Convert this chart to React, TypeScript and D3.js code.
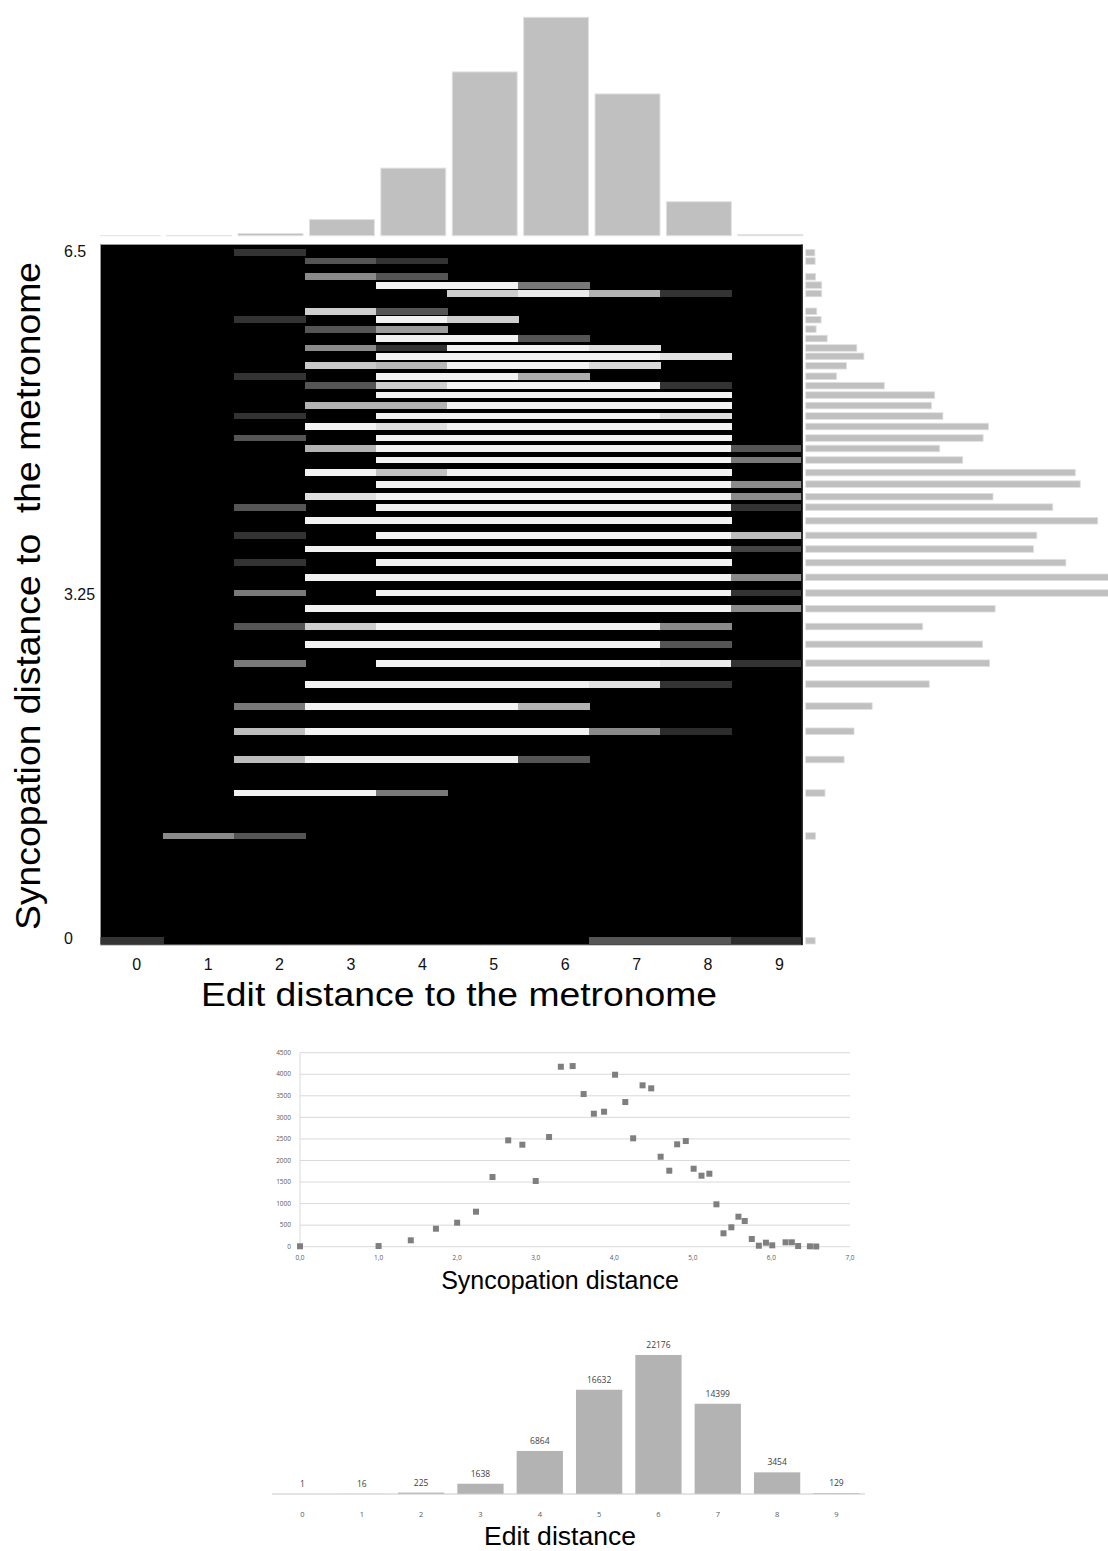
import React from 'react';
import * as d3 from 'd3';

// edit distance histogram (top bars + bottom chart)
const editDistances = [0, 1, 2, 3, 4, 5, 6, 7, 8, 9];
const editCounts = [1, 16, 225, 1638, 6864, 16632, 22176, 14399, 3454, 129];

// syncopation distance values (rows of the heatmap) and their counts
const syncValues = [0, 1.0, 1.41, 1.73, 2.0, 2.24, 2.45, 2.65, 2.83, 3.0, 3.17, 3.32, 3.47, 3.61, 3.74,
  3.87, 4.01, 4.14, 4.24, 4.36, 4.47, 4.59, 4.7, 4.8, 4.91, 5.01, 5.11, 5.21, 5.3, 5.39, 5.49, 5.58,
  5.66, 5.75, 5.84, 5.93, 6.01, 6.18, 6.26, 6.34, 6.49, 6.57];
const syncCounts = [10, 15, 148, 417, 557, 812, 1616, 2467, 2366, 1524, 2544, 4174, 4190, 3541, 3085,
  3131, 3989, 3356, 2514, 3743, 3673, 2087, 1763, 2375, 2451, 1809, 1647, 1693, 983, 311, 450, 696,
  596, 179, 23, 93, 32, 102, 102, 16, 9, 5];

// heatmap intensity per syncopation row (same order as syncValues), one value per edit distance
const heatLevels = [
  [0.21, 0, 0, 0, 0, 0, 0, 0.35, 0.35, 0.18],
  [0, 0.57, 0.35, 0, 0, 0, 0, 0, 0, 0],
  [0, 0, 1, 1, 0.5, 0, 0, 0, 0, 0],
  [0, 0, 0.78, 1, 1, 1, 0.35, 0, 0, 0],
  [0, 0, 0.78, 1, 1, 1, 1, 0.57, 0.18, 0],
  [0, 0, 0.5, 1, 1, 1, 0.74, 0, 0, 0],
  [0, 0, 0, 1, 1, 1, 1, 0.93, 0.21, 0],
  [0, 0, 0.5, 0, 1, 1, 1, 1, 0.97, 0.21],
  [0, 0, 0, 1, 1, 1, 1, 1, 0.35, 0],
  [0, 0, 0.35, 0.85, 1, 1, 1, 1, 0.57, 0],
  [0, 0, 0, 1, 1, 1, 1, 1, 1, 0.57],
  [0, 0, 0.5, 0, 1, 1, 1, 1, 1, 0.21],
  [0, 0, 0, 1, 1, 1, 1, 1, 1, 0.57],
  [0, 0, 0.21, 0, 1, 1, 1, 1, 1, 0],
  [0, 0, 0, 1, 1, 1, 1, 1, 1, 0.28],
  [0, 0, 0.21, 0, 1, 1, 1, 1, 1, 0.78],
  [0, 0, 0, 1, 1, 1, 1, 1, 1, 0],
  [0, 0, 0.35, 0, 1, 1, 1, 1, 1, 0.21],
  [0, 0, 0, 0.92, 1, 1, 1, 1, 1, 0.57],
  [0, 0, 0, 0, 1, 1, 1, 1, 1, 0.57],
  [0, 0, 0, 1, 0.8, 1, 1, 1, 1, 0],
  [0, 0, 0, 0, 1, 1, 1, 1, 1, 0.5],
  [0, 0, 0, 0.74, 1, 1, 1, 1, 1, 0.35],
  [0, 0, 0.35, 0, 1, 1, 1, 1, 1, 0],
  [0, 0, 0, 1, 0.92, 1, 1, 1, 1, 0],
  [0, 0, 0.21, 0, 1, 1, 1, 1, 0.92, 0],
  [0, 0, 0, 0.74, 0.74, 1, 1, 1, 1, 0],
  [0, 0, 0, 0, 1, 1, 1, 1, 1, 0],
  [0, 0, 0, 0.35, 0.85, 1, 1, 1, 0.21, 0],
  [0, 0, 0.21, 0, 1, 1, 0.71, 0, 0, 0],
  [0, 0, 0, 0.83, 0.76, 1, 1, 0.9, 0, 0],
  [0, 0, 0, 0, 1, 1, 1, 1, 0.93, 0],
  [0, 0, 0, 0.57, 0.21, 1, 1, 0.92, 0, 0],
  [0, 0, 0, 0, 1, 1, 0.35, 0, 0, 0],
  [0, 0, 0, 0.35, 0.64, 0, 0, 0, 0, 0],
  [0, 0, 0.21, 0, 1, 0.85, 0, 0, 0, 0],
  [0, 0, 0, 0.85, 0.35, 0, 0, 0, 0, 0],
  [0, 0, 0, 0, 0, 0.85, 0.97, 0.74, 0.21, 0],
  [0, 0, 0, 0, 1, 1, 0.5, 0, 0, 0],
  [0, 0, 0, 0.57, 0.35, 0, 0, 0, 0, 0],
  [0, 0, 0, 0.35, 0.21, 0, 0, 0, 0, 0],
  [0, 0, 0.21, 0, 0, 0, 0, 0, 0, 0],
];

const syncTicks = [0, 3.25, 6.5];
const scatterYTicks = [0, 500, 1000, 1500, 2000, 2500, 3000, 3500, 4000, 4500];
const scatterXTicks = [0, 1, 2, 3, 4, 5, 6, 7];

const ARIAL = "'Liberation Sans', Arial, sans-serif";
const SMALL = "'Open Sans', 'Liberation Sans', sans-serif";

export default function App() {
  // heatmap + marginals
  const plot = { x0: 100.5, x1: 802, y0: 244.5, y1: 945 };
  const heatX = d3.scaleBand<number>().domain(editDistances).range([92.4, 802.4]);
  const heatY = d3.scaleLinear().domain([0, 6.5]).range([940.7, 260]);
  const gray = d3.scaleLinear<string>().domain([0, 1]).range(['#000000', '#f2f2f2']);
  const yTick = d3.scaleLinear().domain([0, 6.5]).range([938, 251]);
  const xTick = d3.scaleLinear().domain([0, 9]).range([136.7, 779.5]);

  const topX = d3.scaleBand<number>().domain(editDistances).range([92, 806])
    .paddingInner(0.09).paddingOuter(0.045);
  const topY = d3.scaleLinear().domain([0, d3.max(editCounts)!]).range([235.7, 17.3]);

  const histLeft = 805.7;
  const rightX = d3.scaleLinear().domain([0, 4300]).range([814.5, 1119.8]);

  // scatter
  const scX = d3.scaleLinear().domain([0, 7]).range([300, 850]);
  const scY = d3.scaleLinear().domain([0, 4500]).range([1246.7, 1052.7]);
  const commaFmt = (v: number) => d3.format('.1f')(v).replace('.', ',');

  // bottom bar chart
  const barX = d3.scaleBand<number>().domain(editDistances).range([272.8, 866.1])
    .paddingInner(0.22).paddingOuter(0.11);
  const barY = d3.scaleLinear().domain([0, d3.max(editCounts)!]).range([1494, 1355]);

  const rowH = 6.8;

  return (
    <div style={{ position: 'absolute', left: 0, top: 0 }}>
      <svg width={1108} height={1551} style={{ display: 'block', background: '#fff' }}>
        <defs>
          <clipPath id="heatClip">
            <rect x={plot.x0} y={plot.y0} width={plot.x1 - plot.x0} height={plot.y1 - plot.y0} />
          </clipPath>
          <clipPath id="topClip">
            <rect x={plot.x0 - 0.5} y={0} width={plot.x1 - plot.x0 + 8} height={240} />
          </clipPath>
        </defs>

        {/* top histogram */}
        <g clipPath="url(#topClip)">
          {editCounts.map((c, i) => (
            <rect key={i} x={topX(editDistances[i])} y={topY(c)} width={topX.bandwidth()}
              height={topY(0) - topY(c)} fill="#c0c0c0" stroke="#e2e2e2" strokeWidth={1} />
          ))}
        </g>

        {/* heatmap */}
        <rect x={plot.x0} y={plot.y0} width={plot.x1 - plot.x0} height={plot.y1 - plot.y0}
          fill="#000" stroke="#9a9a9a" strokeWidth={1} />
        <g clipPath="url(#heatClip)" shapeRendering="crispEdges">
          {heatLevels.map((row, r) => row.map((lv, k) => lv > 0 ? (
            <rect key={`${r}-${k}`} x={heatX(editDistances[k])} y={heatY(syncValues[r]) - rowH / 2}
              width={heatX.bandwidth() + 0.6} height={rowH} fill={gray(lv)} />
          ) : null))}
        </g>

        {/* right histogram */}
        <line x1={802} x2={802} y1={plot.y0} y2={plot.y1} stroke="#000" strokeWidth={1.5} />
        {syncCounts.map((c, i) => (
          <rect key={i} x={histLeft} y={heatY(syncValues[i]) - 3.3} width={rightX(c) - histLeft}
            height={6.6} fill="#c0c0c0" stroke="#e0e0e0" strokeWidth={0.8} />
        ))}

        {/* axes of heatmap */}
        {syncTicks.map(t => (
          <text key={t} x={64} y={yTick(t) + 5.5} fontFamily={ARIAL} fontSize={16} fill="#111">{String(t)}</text>
        ))}
        {editDistances.map(d => (
          <text key={d} x={xTick(d)} y={970} textAnchor="middle" fontFamily={ARIAL} fontSize={16} fill="#111">{d}</text>
        ))}
        <text x={459} y={1006} textAnchor="middle" fontFamily={ARIAL} fontSize={34} fill="#000"
          textLength={516} lengthAdjust="spacingAndGlyphs">
          Edit distance to the metronome
        </text>
        <text transform="translate(40,596) rotate(-90)" textAnchor="middle" fontFamily={ARIAL} fontSize={35}
          fill="#000" style={{ whiteSpace: 'pre' }} textLength={668} lengthAdjust="spacingAndGlyphs">
          {'Syncopation distance to  the metronome'}
        </text>

        {/* scatter chart */}
        {scatterYTicks.map(t => (
          <g key={t}>
            <line x1={scX(0)} x2={scX(7)} y1={scY(t)} y2={scY(t)} stroke="#d9d9d9" strokeWidth={1} />
            <text x={291} y={scY(t) + 2.2} textAnchor="end" fontFamily={SMALL} fontSize={6.5} fill="#595959">{t}</text>
          </g>
        ))}
        <line x1={scX(0)} x2={scX(0)} y1={scY(4500)} y2={scY(0)} stroke="#d9d9d9" strokeWidth={1} />
        {scatterXTicks.map(t => (
          <text key={t} x={scX(t)} y={1260} textAnchor="middle" fontFamily={SMALL} fontSize={6.5} fill="#595959">{commaFmt(t)}</text>
        ))}
        {syncValues.map((v, i) => (
          <rect key={i} x={scX(v) - 3} y={scY(syncCounts[i]) - 3} width={6} height={6} fill="#7f7f7f" />
        ))}
        <text x={560} y={1289} textAnchor="middle" fontFamily={ARIAL} fontSize={25} fill="#000">Syncopation distance</text>

        {/* bottom bar chart */}
        {editCounts.map((c, i) => (
          <g key={i}>
            <rect x={barX(editDistances[i])} y={barY(c)} width={barX.bandwidth()} height={barY(0) - barY(c)}
              fill="#b3b3b3" />
            <text x={barX(editDistances[i])! + barX.bandwidth() / 2} y={barY(c) - 7} textAnchor="middle"
              fontFamily={SMALL} fontSize={8.5} fill="#404040">{c}</text>
            <text x={barX(editDistances[i])! + barX.bandwidth() / 2} y={1517} textAnchor="middle"
              fontFamily={SMALL} fontSize={7.5} fill="#595959">{editDistances[i]}</text>
          </g>
        ))}
        <line x1={272} x2={865} y1={barY(0)} y2={barY(0)} stroke="#c8c8c8" strokeWidth={1} />
        <text x={560} y={1545} textAnchor="middle" fontFamily={ARIAL} fontSize={25} fill="#000"
          textLength={152} lengthAdjust="spacingAndGlyphs">Edit distance</text>
      </svg>
    </div>
  );
}
